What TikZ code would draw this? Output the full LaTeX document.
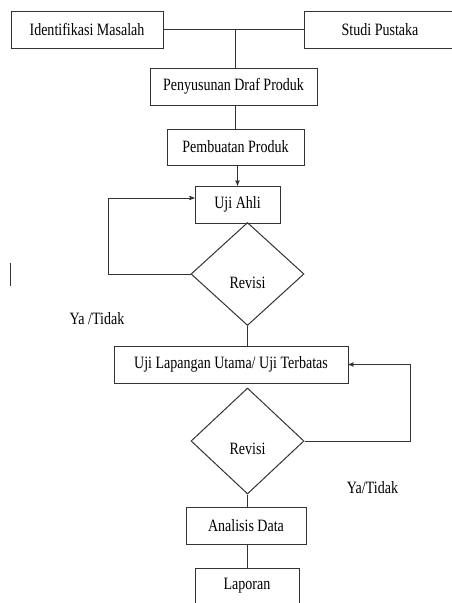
\documentclass[tikz,border=0pt]{standalone}
\usepackage{fontspec}
\setmainfont{Liberation Serif}[FakeStretch=0.81]
\usepackage{tikz}
\usetikzlibrary{arrows,shapes.geometric}

\begin{document}
\begin{tikzpicture}[x=1pt,y=-1pt,>=stealth',font=\fontsize{17.3}{19}\selectfont]
		\tikzstyle{proses}=[rectangle, draw=black!80, line width=1pt, inner sep=0pt, minimum height=37pt]
		\tikzstyle{keputusan}=[diamond, draw=black!80, line width=1pt, inner sep=0pt, minimum width=113pt, minimum height=103pt]
		\tikzstyle{garis}=[draw=black!80, line width=0.9pt]
		\useasboundingbox (0,0) rectangle (452,603);

		\node [proses, minimum width=152pt] (identifikasi) at (87,29.5) {Identifikasi Masalah};
		\node [proses, minimum width=152pt] (studi) at (380,29.5) {Studi Pustaka};
		\node [proses, minimum width=167pt] (draf) at (233.5,86.5) {Penyusunan Draf Produk};
		\node [proses, minimum width=137pt, minimum height=36pt] (buat) at (235.5,147) {Pembuatan Produk};
		\node [proses, minimum width=85pt] (ahli) at (237.5,204.5) {Uji Ahli};
		\node [keputusan, label={[yshift=-9pt]center:Revisi}] (revisi1) at (247.5,274) {};
		\node [proses, minimum width=234pt] (lapangan) at (231,364.5) {Uji Lapangan Utama/ Uji Terbatas};
		\node [keputusan, minimum height=106pt, label={[yshift=-8pt]center:Revisi}] (revisi2) at (247.5,441) {};
		\node [proses, minimum width=120pt] (analisis) at (246,525.5) {Analisis Data};
		\node [proses, minimum width=104pt, minimum height=36pt] (laporan) at (247,586) {Laporan};

		\node (yatidak1) at (97,319) {Ya /Tidak};
		\node (yatidak2) at (372.5,488) {Ya/Tidak};

		\coordinate (cabang) at (235,29.5);
		\coordinate (kiri) at (108,274);
		\coordinate (kanan) at (410,441);

		\draw [garis] (identifikasi.east) -- (studi.west);
		\draw [garis] (cabang) -- (cabang |- draf.north);
		\draw [garis] (buat.north) -- (buat.north |- draf.south);
		\draw [garis,->] (ahli.north |- buat.south) -- (ahli.north);
		\draw [garis,->] (revisi1.west) -- (kiri) |- ([yshift=6.5pt]ahli.west);
		\draw [garis] (revisi1.south) -- (revisi1.south |- lapangan.north);
		\draw [garis,->] (revisi2.east) -- (kanan) |- (lapangan.east);
		\draw [garis] (revisi2.south) -- (revisi2.south |- analisis.north);
		\draw [garis] (laporan.north) -- (laporan.north |- analisis.south);

		\draw [garis] (10,263) -- (10,286);
	\end{tikzpicture}
\end{document}
